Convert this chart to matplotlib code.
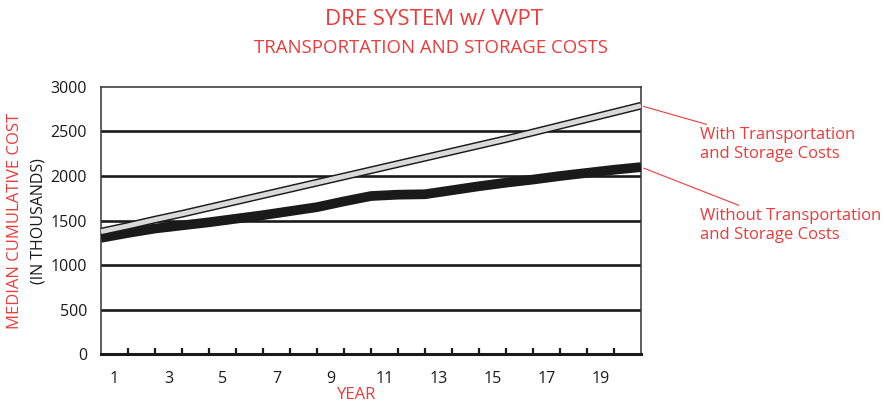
"""DRE system w/ VVPT: median cumulative cost with/without transport & storage."""

import matplotlib

matplotlib.use("Agg")
import matplotlib.pyplot as plt  # noqa: E402

RED = "#ec3b3b"
INK = "#1a1a1a"

# year boundaries along the x axis (0 = start of year 1, 20 = end of year 20)
year_marks = [0, 1, 2, 3, 4, 5, 6, 7, 8, 9, 10, 11, 12, 13, 14, 15, 16, 17, 18, 19, 20]
with_costs = [1375, 1440, 1510, 1575, 1645, 1715, 1785, 1855, 1925, 1995, 2065,
              2135, 2205, 2275, 2345, 2415, 2490, 2565, 2640, 2715, 2790]
without_costs = [1305, 1360, 1410, 1445, 1480, 1520, 1560, 1605, 1650, 1715, 1775,
                 1790, 1795, 1840, 1885, 1925, 1960, 2000, 2035, 2070, 2100]

year_labels = ["1", "3", "5", "7", "9", "11", "13", "15", "17", "19"]
y_ticks = [0, 500, 1000, 1500, 2000, 2500, 3000]

plt.rcParams["font.family"] = ["Open Sans", "DejaVu Sans"]

fig = plt.figure(figsize=(8.85, 4.05), dpi=100)
ax = fig.add_axes([0.1141, 0.1259, 0.6102, 0.6593])

ax.set_xlim(0, 20)
ax.set_ylim(0, 3000)

# horizontal rules
for val in y_ticks[1:-1]:
    ax.axhline(val, color=INK, linewidth=1.9, zorder=1)

# heavy black line, then the outlined grey one
ax.plot(year_marks, without_costs, color=INK, linewidth=7.0,
        solid_capstyle="butt", solid_joinstyle="round", zorder=3)
ax.plot(year_marks, with_costs, color=INK, linewidth=5.6,
        solid_capstyle="butt", solid_joinstyle="round", zorder=4)
ax.plot(year_marks, with_costs, color="#d9d9d9", linewidth=3.5,
        solid_capstyle="butt", solid_joinstyle="round", zorder=5)

# ticks: labels sit in the middle of each odd year, marks on the boundaries
ax.set_xticks([i * 2 + 0.5 for i in range(len(year_labels))])
ax.set_xticklabels(year_labels)
ax.set_xticks(year_marks[1:-1], minor=True)
ax.tick_params(axis="x", which="major", length=0, pad=12, labelsize=11.5, colors=INK)
ax.tick_params(axis="x", which="minor", direction="in", length=4.5, width=1.6, color=INK)
ax.set_yticks(y_ticks)
ax.tick_params(axis="y", length=0, pad=10, labelsize=11.5, colors=INK)

for side in ["left", "right", "top"]:
    ax.spines[side].set_linewidth(1.1)
    ax.spines[side].set_color("#333333")
ax.spines["bottom"].set_linewidth(2.2)
ax.spines["bottom"].set_color(INK)

# titles and axis labels
fig.text(0.49, 0.953, "DRE SYSTEM w/ VVPT", color=RED, fontsize=16,
         ha="center", va="center")
fig.text(0.487, 0.881, "TRANSPORTATION AND STORAGE COSTS", color=RED, fontsize=13.4,
         ha="center", va="center")
fig.text(0.017, 0.455, "MEDIAN CUMULATIVE COST", color=RED, fontsize=12,
         rotation=90, ha="center", va="center")
fig.text(0.044, 0.455, "(IN THOUSANDS)", color=INK, fontsize=11.5,
         rotation=90, ha="center", va="center")
fig.text(0.403, 0.025, "YEAR", color=RED, fontsize=12, ha="center", va="center")

# leader lines to the right-hand labels
ax.annotate("With Transportation\nand Storage Costs",
            xy=(20, with_costs[-1]), xycoords="data",
            xytext=(0.791, 0.643), textcoords="figure fraction",
            color=RED, fontsize=12, ha="left", va="center", linespacing=1.25,
            arrowprops=dict(arrowstyle="-", color=RED, linewidth=0.8,
                            shrinkA=0, shrinkB=2),
            annotation_clip=False)
ax.annotate("Without Transportation\nand Storage Costs",
            xy=(20, without_costs[-1]), xycoords="data",
            xytext=(0.791, 0.443), textcoords="figure fraction",
            color=RED, fontsize=12, ha="left", va="center", linespacing=1.25,
            arrowprops=dict(arrowstyle="-", color=RED, linewidth=0.8,
                            shrinkA=0, shrinkB=2),
            annotation_clip=False)

fig.savefig("out.png", dpi=100)
